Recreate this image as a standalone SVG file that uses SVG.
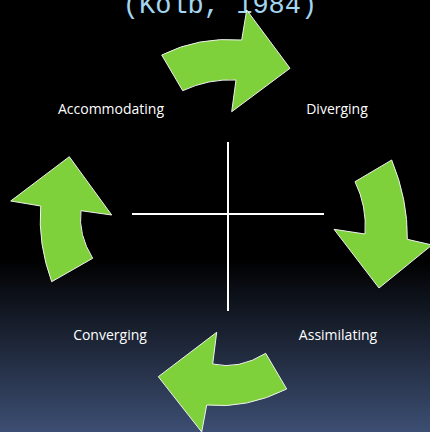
<svg xmlns="http://www.w3.org/2000/svg" width="430" height="432" viewBox="0 0 430 432">
  <defs>
    <linearGradient id="bg" x1="0" y1="0" x2="0" y2="1">
      <stop offset="0" stop-color="#000000"/>
      <stop offset="0.6" stop-color="#000000"/>
      <stop offset="1" stop-color="#3c4e72"/>
    </linearGradient>
    <style>
      .arrow { fill: #7fd13b; stroke: #f0f0f0; stroke-width: 1; stroke-linejoin: miter; }
      .axis { stroke: #ffffff; stroke-width: 2; }
      .label { font-family: "Open Sans", "Liberation Sans", sans-serif; font-size: 14px; fill: #ffffff; text-anchor: middle; }
      .title { font-family: "Liberation Mono", "DejaVu Sans Mono", monospace; font-size: 27px; fill: #a3d6f0; text-anchor: middle; }
    </style>
  </defs>

  <rect width="430" height="432" fill="url(#bg)"/>

  <text class="title" x="220" y="13">(Kolb, 1984)</text>

  <!-- quadrant cross -->
  <g id="axes">
    <line class="axis" x1="228" y1="142" x2="228" y2="311"/>
    <line class="axis" x1="132" y1="214" x2="324" y2="214"/>
  </g>

  <!-- cycle arrows -->
  <g id="connectors">
    <path class="arrow" d="M161.7,55 Q198.3,36.5 241.7,40 L246.7,10 L290,68.3 L231.7,111.7 L236,80 Q208.6,78.6 182.7,90.7 Z"/>
    <path class="arrow" d="M355,181.7 L391.7,160 Q408,200 407.3,239.3 L432,245 L379,288 L334,229.3 L365,234 Q367,206 355,181.7 Z"/>
    <path class="arrow" d="M265.7,353.3 L286.7,389 Q246.7,409 206.7,405 L201.7,432 L158.3,376.7 L216.7,332.3 L212.7,364 Q239,370 265.7,353.3 Z"/>
    <path class="arrow" d="M51.7,281.7 L92.7,258.3 Q78,234.5 81,210.7 L111.7,215 L69.3,156.7 L10.7,201 L40.7,206 Q37.8,244 51.7,281.7 Z"/>
  </g>

  <g id="accommodating"><text class="label" x="111" y="114">Accommodating</text></g>
  <g id="diverging"><text class="label" x="337" y="114">Diverging</text></g>
  <g id="assimilating"><text class="label" x="338" y="340">Assimilating</text></g>
  <g id="converging"><text class="label" x="110" y="340">Converging</text></g>
</svg>
